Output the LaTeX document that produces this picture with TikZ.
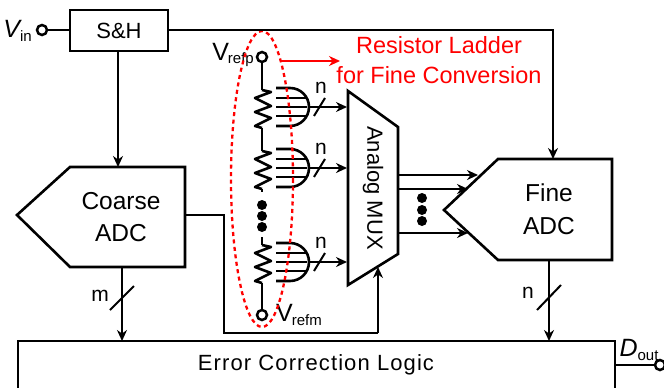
\documentclass[tikz,border=0pt]{standalone}
\usepackage{fontspec}
\setmainfont{Liberation Sans}
\usetikzlibrary{arrows.meta}
\newcommand{\fsize}[1]{\fontsize{#1}{#1}\selectfont}
\newcommand{\lowtext}[1]{\raisebox{-3.5pt}{\fsize{15}#1}}
\tikzset{
    wire/.style={line width=2.6pt},
    arrowwire/.style={wire, -{Stealth[length=11pt,width=10pt]}},
    slash/.style={line width=2pt},
    term/.style={circle, draw, line width=2.5pt, fill=white, inner sep=0pt, minimum size=10pt},
    blockline/.style={line width=2.6pt, line join=miter},
    blocklabel/.style={font=\fsize{24.5}, align=center, inner sep=0pt},
    nlabel/.style={font=\fsize{21}, inner sep=0pt},
    dotmark/.style={circle, fill=black, inner sep=0pt, minimum size=10pt},
    redlabel/.style={font=\fsize{23.5}, text=red, inner sep=0pt}
}
\begin{document}
\begin{tikzpicture}[x=1pt, y=-1pt]
    \useasboundingbox (0,0) rectangle (664,388);
    \fill[white] (0,0) rectangle (664,388);

    % sample and hold
    \node[draw, blockline, minimum width=98pt, minimum height=41pt, inner sep=0pt, font=\fsize{22}] (sh) at (119,30.5) {S\&H};
    \node[term] (vin) at (42,30) {};
    \node[inner sep=0pt, anchor=east] (vinlabel) at (32,31) {\fsize{25}\itshape V\lowtext{\upshape in}};
    \draw[wire] (vin) -- (sh.west |- vin);

    % coarse adc
    \coordinate (ca1) at (17,215);
    \coordinate (ca2) at (70,167);
    \coordinate (ca3) at (185,167);
    \coordinate (ca4) at (185,267);
    \coordinate (ca5) at (70,267);
    \draw[blockline] (ca1) -- (ca2) -- (ca3) -- (ca4) -- (ca5) -- cycle;
    \node[blocklabel] (coarse) at (121,217) {Coarse\\[8pt]ADC};

    % fine adc
    \coordinate (fa1) at (444,210);
    \coordinate (fa2) at (498,159);
    \coordinate (fa3) at (612,159);
    \coordinate (fa4) at (612,260);
    \coordinate (fa5) at (498,260);
    \draw[blockline] (fa1) -- (fa2) -- (fa3) -- (fa4) -- (fa5) -- cycle;
    \node[blocklabel] (fine) at (549,209) {Fine\\[8pt]ADC};

    % error correction
    \draw[blockline] (18,395) -- (18,341) -- (615,341) -- (615,395);
    \coordinate (ectop) at (316,341);
    \node[font=\fsize{22}, inner sep=0pt] (eclogic) at (316,365) {\addfontfeature{LetterSpace=5}Error Correction Logic};
    \node[term] (dout) at (660,365) {};
    \coordinate (ecright) at (615,365);
    \draw[wire] (ecright) -- (dout);
    \node[inner sep=0pt] (doutlabel) at (639,350) {\fsize{25}\itshape D\lowtext{\upshape out}};

    % analog mux
    \coordinate (mx1) at (348,91);
    \coordinate (mx2) at (398,127);
    \coordinate (mx3) at (398,254);
    \coordinate (mx4) at (348,285);
    \draw[blockline] (mx1) -- (mx2) -- (mx3) -- (mx4) -- cycle;
    \node[rotate=-90, font=\fsize{22}, inner sep=0pt] (mux) at (373,188) {Analog MUX};

    % resistor ladder
    \node[term] (vrefp) at (262,57) {};
    \node[term] (vrefm) at (262,315) {};
    \node[inner sep=0pt, anchor=east] (vreflabel) at (254,55) {\fsize{25}V\kern-1pt\lowtext{refp}};
    \node[inner sep=0pt, anchor=west] (vrmlabel) at (276,315) {\fsize{25}V\kern-1pt\lowtext{refm}};
    \foreach \y/\n in {107/a,168/b,262/c} {
        \coordinate (rtop\n) at (262,\y-17);
        \coordinate (rbot\n) at (262,\y+21);
        \draw[wire, line join=round] (rtop\n) -- (271,\y-15) -- (255,\y-9) -- (271,\y-1) -- (255,\y+5) -- (271,\y+11) -- (255,\y+19) -- (rbot\n);
        % taps
        \draw[wire] (276,\y-19) -- (290,\y-19) arc (-90:90:19) -- (276,\y+19);
        \foreach \d in {-9,0,9}
            \draw[wire] (276,\y+\d) -- (307,\y+\d);
        \coordinate (tap\n) at (309,\y);
        \coordinate (out\n) at (347,\y);
        \draw[arrowwire] (tap\n) -- (out\n);
        \draw[slash] (314,\y+9) -- (325,\y-9);
        \node[nlabel] (nl\n) at (321,\y-19) {n};
    }
    \draw[wire] (vrefp) -- (rtopa);
    \draw[wire] (rbota) -- (rtopb);
    \draw[wire] (rbotb) -- (262,192);
    \draw[wire] (262,237) -- (rtopc);
    \draw[wire] (rbotc) -- (vrefm);
    \foreach \y in {205,216,227}
        \node[dotmark] at (262,\y) {};

    \draw[red, line width=2.3pt, dash pattern=on 4pt off 3.5pt] (262,179) ellipse (31 and 148);
    \coordinate (redstart) at (280,61);
    \coordinate (redend) at (340,61);
    \draw[red, line width=2.3pt, -{Stealth[length=11pt,width=10pt]}] (redstart) -- (redend);
    \node[redlabel] (rl1) at (439,45) {Resistor Ladder};
    \node[redlabel] (rl2) at (439,75) {for Fine Conversion};

    % connections
    \coordinate (shr) at (sh.east);
    \coordinate (shb) at (118,51);
    \coordinate (catop) at (118,167);
    \coordinate (fatop) at (553,159);
    \draw[wire] (shr |- vin) -| (553,90);
    \draw[arrowwire] (553,90) -- (fatop);
    \draw[arrowwire] (shb) -- (catop);

    \coordinate (caout) at (185,215);
    \coordinate (muxin) at (378,267);
    \draw[wire] (caout) -- (224,215) -- (224,333) -- (378,333);
    \draw[arrowwire] (378,333) -- (muxin);

    \coordinate (cab) at (122,267);
    \coordinate (ecm) at (122,341);
    \draw[arrowwire] (cab) -- (ecm);
    \draw[slash] (110,310) -- (134,286);
    \node[nlabel] (mlabel) at (100,296) {m};

    \coordinate (fab) at (549,260);
    \coordinate (ecn) at (549,341);
    \draw[arrowwire] (fab) -- (ecn);
    \draw[slash] (537,310) -- (561,285);
    \node[nlabel] (fnlabel) at (528,293) {n};

    % mux to fine adc
    \foreach \y/\e in {175/478,189/468,233/468} {
        \coordinate (muxo) at (398,\y);
        \coordinate (fain) at (\e,\y);
        \draw[arrowwire] (muxo) -- (fain);
    }
    \foreach \y in {198,210,221}
        \node[dotmark] at (422,\y) {};
\end{tikzpicture}
\end{document}
